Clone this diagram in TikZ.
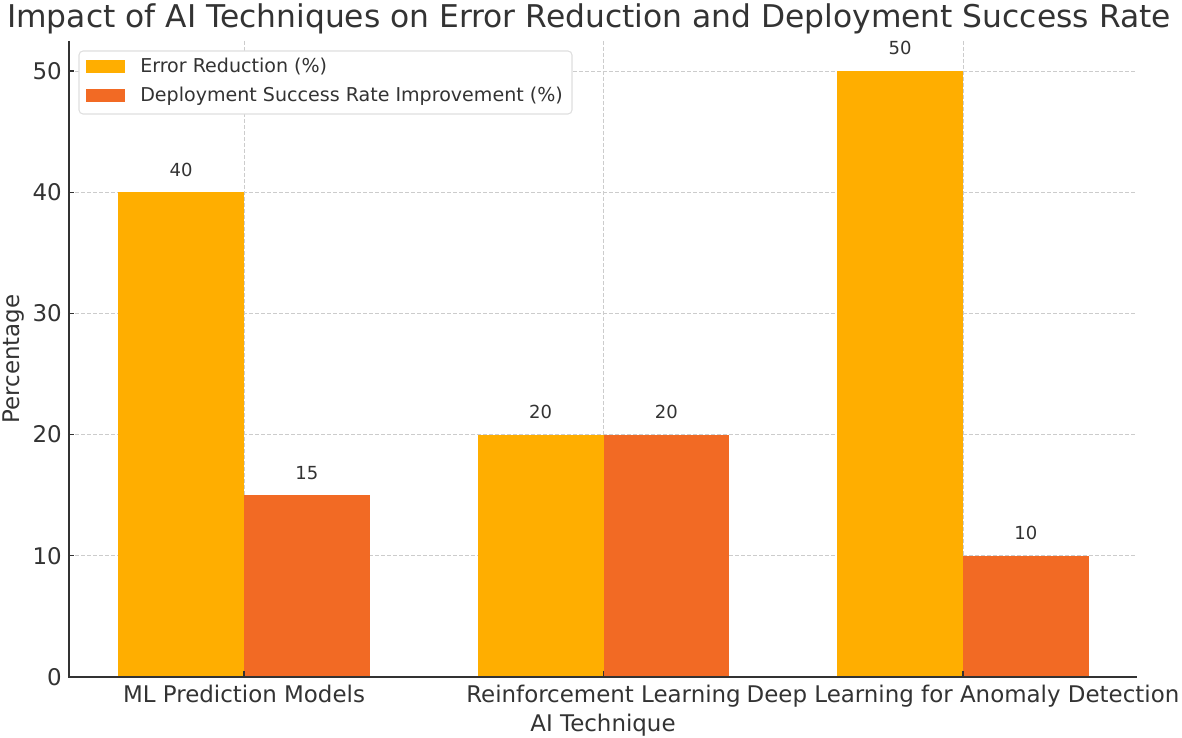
\documentclass[tikz,border=0pt]{standalone}
\usepackage{fontspec}
\setmainfont{DejaVu Sans}
\usepackage{xcolor}
\usetikzlibrary{positioning}

\definecolor{errcol}{RGB}{255,174,0}
\definecolor{depcol}{RGB}{242,106,36}
\definecolor{inkcol}{RGB}{51,51,51}
\definecolor{gridcol}{RGB}{204,204,204}

\begin{document}
\begin{tikzpicture}[
  x=0.75pt, y=-0.75pt,
  errbar/.style={fill=errcol, draw=none},
  depbar/.style={fill=depcol, draw=none},
  gridline/.style={draw=gridcol, dash pattern=on 3pt off 1.5pt, line width=0.6pt},
  spine/.style={draw=inkcol, line width=1pt},
  ticklabel/.style={inner sep=0pt, text=inkcol, font=\fontsize{17.2}{20}\selectfont},
  vallabel/.style={inner sep=0pt, text=inkcol, font=\fontsize{13.5}{16}\selectfont},
  legendlabel/.style={inner sep=0pt, text=inkcol, anchor=west, font=\fontsize{14.3}{17}\selectfont}
]
\useasboundingbox (0,0) rectangle (1182,738);

% title
\node[text=inkcol, font=\fontsize{23.5}{28}\selectfont, anchor=base] (title) at (589,28) {Impact of AI Techniques on Error Reduction and Deployment Success Rate};

% grid
\foreach \v in {10,20,...,50} \draw[gridline] (69,{677-12.12*\v}) -- (1137,{677-12.12*\v});
\foreach \i in {0,1,2} \draw[gridline] ({244+359.5*\i},41) -- ({244+359.5*\i},677);

% bars and values
\foreach \i/\e/\d in {0/40/15,1/20/20,2/50/10} {
  \pgfmathsetmacro\cx{244+359.5*\i}
  \fill[errbar] ({\cx-125.8},677) rectangle (\cx,{677-12.12*\e});
  \fill[depbar] (\cx,677) rectangle ({\cx+125.8},{677-12.12*\d});
  \node[vallabel, anchor=base] (errval\i) at ({\cx-62.9},{677-12.12*\e-16}) {\e};
  \node[vallabel, anchor=base] (depval\i) at ({\cx+62.9},{677-12.12*\d-16}) {\d};
}

% axes
\draw[spine] (69,41) -- (69,677) -- (1137,677);
\foreach \v in {0,10,...,50} {
  \draw[spine] (69,{677-12.12*\v}) -- (74,{677-12.12*\v});
  \node[ticklabel, anchor=east] (ytick\v) at (62,{677-12.12*\v}) {\v};
}
\foreach \i/\t in {0/ML Prediction Models,1/Reinforcement Learning,2/Deep Learning for Anomaly Detection} {
  \draw[spine] ({244+359.5*\i},677) -- ({244+359.5*\i},671);
  \node[ticklabel, anchor=base] (xtick\i) at ({244+359.5*\i},702) {\t};
}
\node[ticklabel, anchor=base] (xlabel) at (603,731) {AI Technique};
\node[ticklabel, rotate=90] (ylabel) at (14,359) {Percentage};

% legend
\node[draw=gray!25, fill=white, rounded corners=3pt, line width=0.8pt, minimum width=369.75pt, minimum height=47.25pt] (legend) at (325.5,82.5) {};
\fill[errbar] (86,60) rectangle (125,73);
\fill[depbar] (86,89) rectangle (125,102);
\node[legendlabel] (errleg) at (140,67) {Error Reduction (\%)};
\node[legendlabel] (depleg) at (140,96) {Deployment Success Rate Improvement (\%)};
\end{tikzpicture}
\end{document}
